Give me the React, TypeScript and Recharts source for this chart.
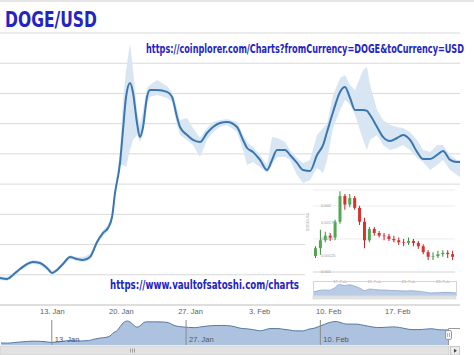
import { ComposedChart, AreaChart, Area, Line, Bar, Cell, XAxis, YAxis, CartesianGrid, ReferenceLine } from 'recharts';

// main series: day of 2014 (1 = 1 Jan), price in 1e-4 USD
const days = [7.7, 8.41, 9.02, 9.73, 10.44, 11.04, 11.75, 12.46, 12.97, 13.48, 14.08, 14.79, 15.5, 16.11, 16.82, 17.53, 18.14, 18.64, 19.05, 19.35, 19.86, 20.16, 20.47, 20.87, 21.18, 21.58, 21.88, 22.19, 22.59, 22.9, 23.61, 24.62, 25.13, 25.63, 25.94, 26.65, 27.25, 27.96, 28.67, 29.28, 29.99, 30.7, 31.71, 32.32, 32.73, 33.33, 34.04, 34.75, 35.26, 35.76, 36.58, 37.08, 37.79, 38.4, 39.11, 39.82, 40.43, 40.83, 41.44, 42.15, 42.65, 43.16, 43.67, 44.48, 44.88, 45.19, 45.9, 46.5, 47.21, 47.92, 48.53, 49.24, 49.95, 50.56, 51.27, 51.98, 52.58, 53.29, 54.0, 54.31];
const close = [1.79, 1.72, 1.99, 2.38, 2.71, 2.85, 2.78, 2.45, 2.12, 2.32, 2.71, 3.18, 3.04, 2.98, 3.18, 4.17, 4.77, 5.1, 5.82, 7.41, 9.4, 11.58, 13.77, 14.69, 14.03, 12.04, 11.12, 11.78, 13.77, 14.23, 14.23, 14.1, 13.77, 12.44, 11.78, 11.25, 10.92, 10.79, 11.38, 11.78, 12.04, 12.11, 11.78, 10.92, 10.39, 10.13, 9.6, 8.93, 9.6, 10.26, 10.26, 9.93, 9.4, 8.93, 8.87, 9.93, 10.59, 11.45, 12.77, 14.1, 14.43, 13.7, 12.91, 12.91, 12.84, 12.57, 11.78, 11.12, 10.85, 11.05, 11.25, 10.92, 10.13, 9.66, 9.66, 9.93, 10.19, 9.6, 9.46, 9.46];
const high = [1.92, 1.85, 2.12, 2.51, 2.85, 2.98, 2.91, 2.58, 2.25, 2.45, 2.85, 3.31, 3.18, 3.18, 3.38, 4.3, 4.96, 5.29, 6.02, 7.61, 10.26, 13.57, 15.55, 17.34, 15.55, 12.91, 11.91, 12.91, 14.36, 14.56, 14.89, 14.49, 14.1, 13.04, 12.24, 12.38, 11.71, 11.05, 11.71, 12.11, 12.24, 12.31, 12.11, 11.25, 10.79, 10.46, 9.93, 9.27, 11.12, 11.05, 10.79, 10.26, 9.73, 9.4, 9.6, 11.25, 11.71, 11.98, 13.9, 15.02, 15.22, 14.56, 14.23, 15.55, 15.75, 14.56, 12.91, 12.24, 11.91, 11.78, 11.71, 11.45, 10.92, 10.26, 10.13, 10.59, 10.59, 9.93, 9.6, 9.6];
const low = [1.65, 1.59, 1.85, 2.25, 2.58, 2.71, 2.65, 2.32, 1.99, 2.18, 2.58, 3.04, 2.91, 2.85, 2.98, 3.97, 4.57, 4.9, 5.63, 7.21, 9.27, 9.27, 9.13, 10.26, 10.92, 11.25, 10.79, 11.25, 13.24, 13.77, 13.9, 13.7, 13.43, 11.91, 11.25, 10.92, 10.59, 9.79, 10.92, 11.45, 11.78, 11.91, 11.45, 10.26, 9.27, 9.46, 9.13, 8.74, 9.27, 9.79, 9.79, 9.6, 8.6, 8.07, 8.27, 9.07, 8.74, 9.6, 11.71, 12.91, 13.57, 13.24, 12.57, 10.92, 10.26, 10.92, 11.25, 10.59, 10.26, 10.39, 10.59, 10.26, 9.73, 9.46, 8.93, 9.27, 9.6, 8.93, 8.6, 8.47];

const yTicks = [0, 2, 4, 6, 8, 10, 12, 14, 16, 18];
const tickDays = [13, 20, 27, 34, 41, 48];
const tickLabels = ['13. Jan', '20. Jan', '27. Jan', '3. Feb', '10. Feb', '17. Feb'];
const navDays = [13, 27, 41];
const navLabels = ['13. Jan', '27. Jan', '10. Feb'];

// inset candlestick screenshot, price in 1e-3 USD
const candleOpen = [1.24, 1.36, 1.48, 1.55, 1.52, 1.76, 2.15, 2.02, 2.12, 1.97, 1.76, 1.48, 1.65, 1.59, 1.55, 1.54, 1.5, 1.48, 1.45, 1.44, 1.47, 1.44, 1.39, 1.3, 1.23, 1.24, 1.27, 1.29, 1.27];
const candleClose = [1.36, 1.48, 1.55, 1.52, 1.76, 2.15, 2.02, 2.12, 1.97, 1.76, 1.48, 1.65, 1.59, 1.55, 1.54, 1.5, 1.48, 1.45, 1.44, 1.47, 1.44, 1.39, 1.3, 1.23, 1.24, 1.27, 1.29, 1.27, 1.23];
const candleHigh = [1.39, 1.64, 1.61, 1.59, 1.79, 2.22, 2.18, 2.18, 2.15, 2.0, 1.82, 1.68, 1.68, 1.62, 1.59, 1.58, 1.55, 1.52, 1.5, 1.52, 1.5, 1.47, 1.42, 1.33, 1.3, 1.32, 1.33, 1.33, 1.32];
const candleLow = [1.21, 1.26, 1.45, 1.47, 1.48, 1.73, 1.94, 1.98, 1.94, 1.71, 1.36, 1.45, 1.55, 1.52, 1.48, 1.47, 1.45, 1.41, 1.39, 1.41, 1.39, 1.35, 1.27, 1.18, 1.18, 1.21, 1.23, 1.21, 1.18];
const insetTicks = [1, 1.25, 1.5, 1.75, 2];
const insetTickLabels = ['0.001', '0.00125', '0.0015', '0.00175', '0.002'];
const insetTickIdx = [5, 12, 19, 26];
const insetDateLabels = ['17. Feb', '19. Feb', '21. Feb', '23. Feb'];

const rows = days.map((day, i) => ({ day, close: close[i], range: [low[i], high[i]] }));
const candles = candleOpen.map((o, i) => ({
  i,
  close: candleClose[i],
  wick: [candleLow[i], candleHigh[i]],
  body: [Math.min(o, candleClose[i]), Math.max(o, candleClose[i])],
  up: candleClose[i] >= o,
}));

const blue = '#2424c4';
const urlFont = "'DejaVu Sans Condensed', 'DejaVu Sans', sans-serif";

function DateTick(props: any) {
  const idx = tickDays.indexOf(props.payload.value);
  return (
    <text x={props.x} y={314} textAnchor="middle" fontFamily="Liberation Sans" fontSize={7.5} fill="#606060">
      {tickLabels[idx]}
    </text>
  );
}

export default function App() {
  return (
    <div style={{ position: 'absolute', left: 0, top: 0, width: 474, height: 355, background: '#fff', overflow: 'hidden' }}>
      <div style={{ position: 'absolute', left: 0, top: 0 }}>
        <ComposedChart width={474} height={355} data={rows} margin={{ top: 33, right: 14, bottom: 30, left: 0 }}>
          <CartesianGrid vertical={false} stroke="#d9d9d9" />
          <XAxis dataKey="day" type="number" domain={[7.7, 54.3]} ticks={tickDays} interval={0} height={20}
            axisLine={{ stroke: '#d0d0d0' }} tickLine={false} tick={<DateTick />} allowDataOverflow />
          <YAxis hide domain={[0, 18]} ticks={yTicks} />
          <Area dataKey="range" type="linear" fill="#d8e6f3" fillOpacity={1} stroke="none" isAnimationActive={false} />
          <Line dataKey="close" type="monotone" stroke="#3a76b0" strokeWidth={2} dot={false} isAnimationActive={false} />
        </ComposedChart>
      </div>

      <div style={{ position: 'absolute', left: 0, top: 315 }}>
        <AreaChart width={448} height={30} data={rows} margin={{ top: 5, right: 0, bottom: 0, left: 0 }}>
          <XAxis dataKey="day" type="number" domain={[7.6, 54.31]} hide allowDataOverflow />
          <YAxis hide domain={[0.6, 15.3]} allowDataOverflow />
          <Area dataKey="close" type="monotone" fill="#adc2de" fillOpacity={1} stroke="#5679a6" strokeWidth={1} isAnimationActive={false} />
          {navDays.map((d, i) => (
            <ReferenceLine key={d} x={d} stroke="#8a8a8a"
              label={{ value: navLabels[i], position: 'insideBottomLeft', offset: 3, fill: '#555', fontSize: 7.5, fontFamily: 'Liberation Sans' }} />
          ))}
        </AreaChart>
      </div>

      <div style={{ position: 'absolute', left: 305, top: 188, width: 155, height: 112, background: '#fff' }}>
        <ComposedChart width={155} height={96} data={candles} margin={{ top: 2, right: 5, bottom: 0, left: 8 }}>
          <CartesianGrid xAxisId="b" vertical={false} stroke="#ececec" />
          <XAxis xAxisId="w" dataKey="i" hide />
          <XAxis xAxisId="b" dataKey="i" height={12} ticks={insetTickIdx} interval={0}
            tickFormatter={(v: number) => insetDateLabels[insetTickIdx.indexOf(v)]}
            axisLine={{ stroke: '#dddddd' }} tickLine={false} tick={{ fontSize: 4, fill: '#999', fontFamily: 'Liberation Sans' }} />
          <YAxis domain={[1, 2.24]} ticks={insetTicks} mirror axisLine={false} tickLine={false} allowDataOverflow
            tickFormatter={(v: number) => insetTickLabels[insetTicks.indexOf(v)]}
            tick={{ fontSize: 4, fill: '#999', fontFamily: 'Liberation Sans' }} />
          <Bar xAxisId="w" dataKey="wick" barSize={1} isAnimationActive={false}>
            {candles.map((c) => <Cell key={c.i} fill={c.up ? '#3c8c3c' : '#c42222'} />)}
          </Bar>
          <Bar xAxisId="b" dataKey="body" barSize={3} isAnimationActive={false}>
            {candles.map((c) => <Cell key={c.i} fill={c.up ? '#52a852' : '#d93030'} />)}
          </Bar>
        </ComposedChart>
        <div style={{ position: 'absolute', left: 8, top: 93, border: '1px solid #d4d4d4' }}>
          <AreaChart width={142} height={13} data={candles} margin={{ top: 1, right: 0, bottom: 0, left: 0 }}>
            <XAxis dataKey="i" hide />
            <YAxis hide domain={[1, 2.3]} />
            <Area dataKey="close" type="monotone" fill="#b9cce6" fillOpacity={1} stroke="#7393c4" strokeWidth={0.6} isAnimationActive={false} />
          </AreaChart>
        </div>
        <svg width={155} height={112} style={{ position: 'absolute', left: 0, top: 0, pointerEvents: 'none' }}>
          <text x={4} y={222 - 188} transform={`rotate(-90 4 ${222 - 188})`} fontSize={3.5} fill="#999" fontFamily="Liberation Sans" textAnchor="middle">DOGE/USD</text>
          <rect x={8} y={108} width={143} height={3} fill="#e4e4e4" stroke="#cfcfcf" strokeWidth={0.5} />
        </svg>
      </div>

      <svg width={474} height={355} style={{ position: 'absolute', left: 0, top: 0, pointerEvents: 'none' }}>
        <rect x={0} y={0} width={474} height={2} fill="#e6e6e6" />
        <text x={5} y={27} fontFamily="DejaVu Sans" fontWeight="bold" fontSize={22} fill={blue}
          textLength={92} lengthAdjust="spacingAndGlyphs">DOGE/USD</text>
        <g transform="translate(146 53) scale(1 1.3)">
          <text x={0} y={0} fontFamily={urlFont} fontWeight="bold" fontSize={9} fill={blue}
            textLength={318} lengthAdjust="spacingAndGlyphs">{'https://coinplorer.com/Charts?fromCurrency=DOGE&toCurrency=USD'}</text>
        </g>
        <g transform="translate(110 289) scale(1 1.3)">
          <text x={0} y={0} fontFamily={urlFont} fontWeight="bold" fontSize={9.2} fill={blue}
            textLength={189} lengthAdjust="spacingAndGlyphs">https://www.vaultofsatoshi.com/charts</text>
        </g>

        <path d="M448.5 345 V328.5 H460" fill="none" stroke="#999" strokeWidth={1} />
        <rect x={445.5} y={330.5} width={6} height={9} rx={1.5} fill="#f4f4f4" stroke="#888" strokeWidth={0.8} />
        <path d="M447.5 333 V337 M449.5 333 V337" stroke="#888" strokeWidth={0.6} />

        <rect x={0} y={346} width={449} height={9} fill="#e2e2e2" stroke="#cdcdcd" strokeWidth={0.8} />
        <path d="M130.5 348.5 V352.5 M132.5 348.5 V352.5 M134.5 348.5 V352.5" stroke="#8a8a8a" strokeWidth={0.7} />
        <rect x={450.5} y={346.5} width={9} height={8.5} fill="#ececec" stroke="#bdbdbd" strokeWidth={0.8} />
        <path d="M454 348.8 L457 350.8 L454 352.8 Z" fill="#444" />
      </svg>
    </div>
  );
}
